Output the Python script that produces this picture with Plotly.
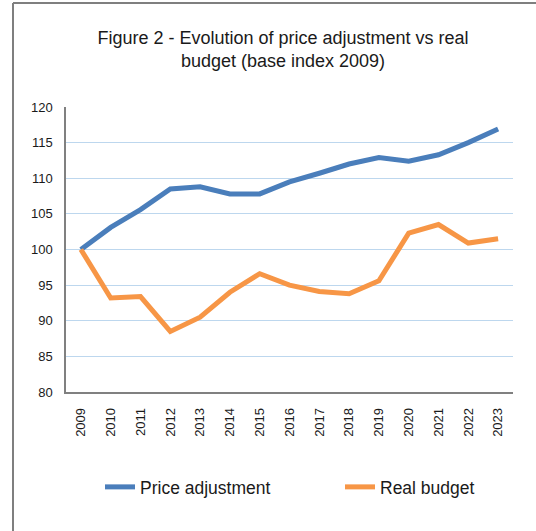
import plotly.graph_objects as go

years = [str(y) for y in range(2009, 2024)]
price_adjustment = [100, 103.1, 105.6, 108.5, 108.8, 107.8, 107.8, 109.5, 110.7, 112.0, 112.9, 112.4, 113.3, 115.0, 116.9]
real_budget = [100, 93.2, 93.4, 88.5, 90.5, 94.0, 96.6, 95.0, 94.1, 93.8, 95.6, 102.3, 103.5, 100.9, 101.5]
y_ticks = [80, 85, 90, 95, 100, 105, 110, 115, 120]

FONT = "Liberation Sans Narrow, Arial Narrow, Liberation Sans, Arial, sans-serif"

W, H = 536, 531
L, R, T, B = 66, 23, 107, 139
pw, ph = W - L - R, H - T - B

fig = go.Figure()
fig.add_trace(go.Scatter(x=years, y=price_adjustment, mode="lines", name="Price adjustment",
                         line=dict(color="#4A7EBB", width=5), legend="legend"))
fig.add_trace(go.Scatter(x=years, y=real_budget, mode="lines", name="Real budget",
                         line=dict(color="#F79646", width=5), legend="legend2"))

def px_x(x):
    return (x - L) / pw

def px_y(y):
    return (H - B - y) / ph

leg_common = dict(orientation="h", yanchor="middle", y=px_y(487), xanchor="left",
                  font=dict(size=17.5, family=FONT, color="#1a1a1a"),
                  bgcolor="rgba(0,0,0,0)")

fig.update_layout(
    width=W, height=H,
    margin=dict(l=L, r=R, t=T, b=B),
    paper_bgcolor="white", plot_bgcolor="white",
    font=dict(family=FONT, color="#1a1a1a"),
    title=dict(text="Figure 2 - Evolution of price adjustment vs real<br>budget (base index 2009)",
               x=px_x(283), xref="paper", xanchor="center",
               y=1 - 44 / H, yanchor="middle",
               font=dict(size=18, family=FONT, color="#1a1a1a")),
    xaxis=dict(type="category", tickangle=-90, showgrid=False,
               range=[-0.5, len(years) - 0.5],
               showline=True, linecolor="#808080", linewidth=1.5,
               ticks="", tickfont=dict(size=13, family=FONT),
               ticklabelstandoff=9),
    yaxis=dict(range=[80, 120], tickvals=y_ticks, showgrid=True,
               gridcolor="#BDD7EE", gridwidth=1.3,
               showline=True, linecolor="#808080", linewidth=1.5,
               ticks="", tickfont=dict(size=13, family=FONT),
               ticklabelstandoff=9, zeroline=False),
    legend=dict(x=px_x(100), **leg_common),
    legend2=dict(x=px_x(340), **leg_common),
    showlegend=True,
    shapes=[
        dict(type="line", xref="paper", yref="paper",
             x0=px_x(13), x1=px_x(13), y0=px_y(3), y1=px_y(H + 5),
             line=dict(color="#7f7f7f", width=2)),
        dict(type="line", xref="paper", yref="paper",
             x0=px_x(13), x1=px_x(W + 5), y0=px_y(3), y1=px_y(3),
             line=dict(color="#7f7f7f", width=2)),
    ],
)

fig.write_html("out.html", config={"displayModeBar": False},
               post_script="document.body.style.margin='0';")
